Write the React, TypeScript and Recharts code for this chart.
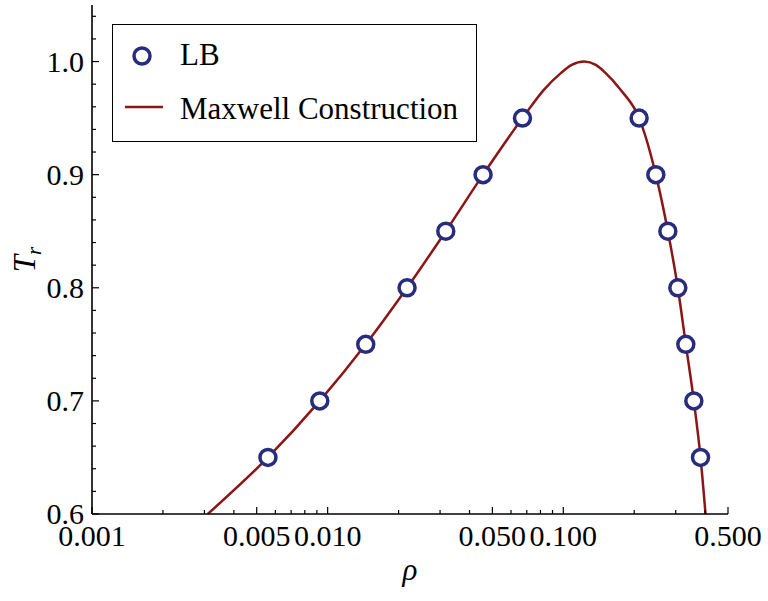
import React from 'react';
import { ComposedChart, Line, Scatter, XAxis, YAxis, Legend } from 'recharts';

// LB simulation points (coexistence densities)
const lbRho = [0.00558, 0.00926, 0.01451, 0.02173, 0.03172, 0.04566, 0.06711, 0.2098, 0.247, 0.2778, 0.3062, 0.3311, 0.3581, 0.3823];
const lbT = [0.65, 0.7, 0.75, 0.8, 0.85, 0.9, 0.95, 0.95, 0.9, 0.85, 0.8, 0.75, 0.7, 0.65];

// Maxwell construction curve
const curveRho = [0.0031, 0.00558, 0.00926, 0.01451, 0.02173, 0.03172, 0.04566, 0.06711, 0.0827, 0.0979, 0.1086, 0.1226, 0.1374, 0.151, 0.175, 0.2098, 0.247, 0.2778, 0.3062, 0.3311, 0.3581, 0.3823, 0.4014];
const curveT = [0.6, 0.65, 0.7, 0.75, 0.8, 0.85, 0.9, 0.95, 0.975, 0.99, 0.997, 1.0, 0.997, 0.99, 0.975, 0.95, 0.9, 0.85, 0.8, 0.75, 0.7, 0.65, 0.6];

const xMajorTicks = [0.001, 0.005, 0.01, 0.05, 0.1, 0.5];
const xMinorTicks = [0.002, 0.003, 0.004, 0.006, 0.007, 0.008, 0.009, 0.02, 0.03, 0.04, 0.06, 0.07, 0.08, 0.09, 0.2, 0.3, 0.4];
const yMajorTicks = [0.6, 0.7, 0.8, 0.9, 1.0];
const yMinorTicks = [0.62, 0.64, 0.66, 0.68, 0.72, 0.74, 0.76, 0.78, 0.82, 0.84, 0.86, 0.88, 0.92, 0.94, 0.96, 0.98, 1.02, 1.04];

const lbData = lbRho.map((rho, i) => ({ rho, T: lbT[i] }));
const curveData = curveRho.map((rho, i) => ({ rho, T: curveT[i] }));
const xTicks = [...xMajorTicks, ...xMinorTicks].sort((a, b) => a - b);
const yTicks = [...yMajorTicks, ...yMinorTicks].sort((a, b) => a - b);

const NAVY = '#272c7c';
const RED = '#8c1616';
const FONT = '"Liberation Serif", "DejaVu Serif", serif';
const MAJOR = 7;
const MINOR = 4;

const BottomTick = (props: any) => {
  const { x, y, payload } = props;
  const major = xMajorTicks.includes(payload.value);
  return (
    <g>
      <line x1={x} x2={x} y1={y} y2={y - (major ? MAJOR : MINOR)} stroke="#000" strokeWidth={1.2} />
      {major && (
        <text x={x} y={y + 32} textAnchor="middle" fontSize={30} fontFamily={FONT} fill="#000">
          {payload.value.toFixed(3)}
        </text>
      )}
    </g>
  );
};

const TopTick = (props: any) => {
  const { x, y, payload } = props;
  const major = xMajorTicks.includes(payload.value);
  return <line x1={x} x2={x} y1={y} y2={y + (major ? MAJOR : MINOR)} stroke="#000" strokeWidth={1.2} />;
};

const LeftTick = (props: any) => {
  const { x, y, payload } = props;
  const major = yMajorTicks.includes(payload.value);
  return (
    <g>
      <line x1={x} x2={x + (major ? MAJOR : MINOR)} y1={y} y2={y} stroke="#000" strokeWidth={1.2} />
      {major && (
        <text x={x - 8} y={y + 10} textAnchor="end" fontSize={30} fontFamily={FONT} fill="#000">
          {payload.value.toFixed(1)}
        </text>
      )}
    </g>
  );
};

const RightTick = (props: any) => {
  const { x, y, payload } = props;
  const major = yMajorTicks.includes(payload.value);
  return <line x1={x} x2={x - (major ? MAJOR : MINOR)} y1={y} y2={y} stroke="#000" strokeWidth={1.2} />;
};

const XTitle = (props: any) => {
  const vb = props.viewBox;
  return (
    <text x={vb.x + vb.width / 2} y={vb.y + 66} textAnchor="middle" fontSize={31} fontStyle="italic" fontFamily={FONT} fill="#000">
      ρ
    </text>
  );
};

const YTitle = (props: any) => {
  const vb = props.viewBox;
  const cx = vb.x + 35;
  const cy = vb.y + vb.height / 2;
  return (
    <text x={cx} y={cy} transform={`rotate(-90 ${cx} ${cy})`} textAnchor="middle" fontSize={31} fontStyle="italic" fontFamily={FONT} fill="#000">
      T<tspan fontSize={21} dy={6}>r</tspan>
    </text>
  );
};

const LegendBox = () => (
  <div style={{ width: 365, height: 118, border: '1.3px solid #000', background: '#fff', boxSizing: 'border-box' }}>
    <svg width={363} height={116} style={{ display: 'block' }}>
      <circle cx={29} cy={31} r={8} fill="#fff" stroke={NAVY} strokeWidth={3.5} />
      <text x={67} y={40} fontSize={31} fontFamily={FONT} fill="#000">LB</text>
      <line x1={12} x2={50} y1={82} y2={82} stroke={RED} strokeWidth={2.5} />
      <text x={67} y={94} fontSize={31} fontFamily={FONT} fill="#000">Maxwell Construction</text>
    </svg>
  </div>
);

const Marker = (props: any) => (
  <circle cx={props.cx} cy={props.cy} r={8} fill="#fff" stroke={NAVY} strokeWidth={3.5} />
);

export default function App() {
  return (
    <div style={{ position: 'absolute', left: 0, top: 0, background: '#fff' }}>
      <ComposedChart width={768} height={601} margin={{ top: 5, right: 40, bottom: 0, left: 0 }}>
        <XAxis
          xAxisId="b"
          dataKey="rho"
          type="number"
          scale="log"
          domain={[0.001, 0.5]}
          allowDataOverflow
          ticks={xTicks}
          interval={0}
          tickSize={0}
          tickMargin={0}
          tick={<BottomTick />}
          tickLine={false}
          axisLine={{ stroke: '#000', strokeWidth: 1.6 }}
          height={87}
          label={<XTitle />}
        />
        <XAxis
          xAxisId="t"
          orientation="top"
          dataKey="rho"
          type="number"
          scale="log"
          domain={[0.001, 0.5]}
          allowDataOverflow
          ticks={xTicks}
          interval={0}
          tickSize={0}
          tickMargin={0}
          tick={<TopTick />}
          tickLine={false}
          axisLine={{ stroke: '#000', strokeWidth: 1.6 }}
          height={0}
        />
        <YAxis
          yAxisId="l"
          dataKey="T"
          type="number"
          domain={[0.6, 1.05]}
          allowDataOverflow
          ticks={yTicks}
          interval={0}
          tickSize={0}
          tickMargin={0}
          tick={<LeftTick />}
          tickLine={false}
          axisLine={{ stroke: '#000', strokeWidth: 1.6 }}
          width={92}
          label={<YTitle />}
        />
        <YAxis
          yAxisId="r"
          orientation="right"
          dataKey="T"
          type="number"
          domain={[0.6, 1.05]}
          allowDataOverflow
          ticks={yTicks}
          interval={0}
          tickSize={0}
          tickMargin={0}
          tick={<RightTick />}
          tickLine={false}
          axisLine={{ stroke: '#000', strokeWidth: 1.6 }}
          width={0}
        />
        <Line
          xAxisId="b"
          yAxisId="l"
          data={curveData}
          dataKey="T"
          type="monotone"
          stroke={RED}
          strokeWidth={2.5}
          dot={false}
          activeDot={false}
          isAnimationActive={false}
          name="Maxwell Construction"
        />
        <Scatter
          xAxisId="b"
          yAxisId="l"
          data={lbData}
          dataKey="T"
          shape={<Marker />}
          isAnimationActive={false}
          name="LB"
        />
        <Legend
          layout="horizontal"
          verticalAlign="middle"
          align="center"
          content={<LegendBox />}
          wrapperStyle={{ position: 'absolute', left: 112, top: 24, width: 365, height: 118 }}
        />
      </ComposedChart>
    </div>
  );
}
